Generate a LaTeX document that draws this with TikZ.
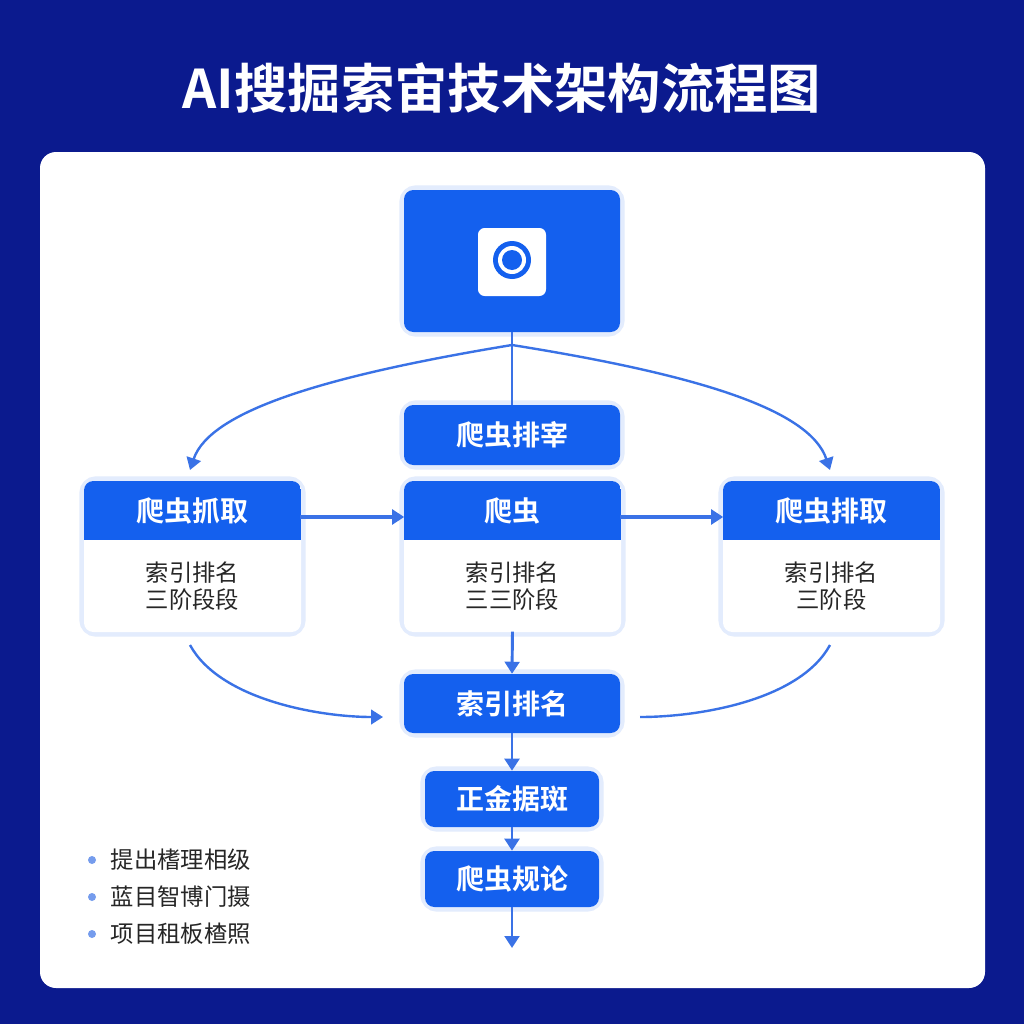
\documentclass[tikz,border=0pt]{standalone}
\usepackage{fontspec}
\setmainfont{Noto Sans CJK SC}[BoldFont={Noto Sans CJK SC Bold}]
\usetikzlibrary{arrows.meta,calc}
\definecolor{bg}{HTML}{0B1A8E}
\definecolor{bl}{HTML}{1460EE}
\definecolor{ln}{HTML}{3A72E6}
\begin{document}
\begin{tikzpicture}[x=0.75pt,y=-0.75pt,
  glow/.style={draw=bl!12,line width=7pt,rounded corners=9pt},
  box/.style={fill=bl,rounded corners=7pt},
  hd/.style={text=white,font=\bfseries\fontsize{21}{24}\selectfont},
  bd/.style={text=black!85,font=\fontsize{17.5}{20}\selectfont,align=center},
  con/.style={draw=ln,line width=2.2pt},
  arr/.style={con,-{Triangle[width=11pt,length=9pt]}},
  bul/.style={font=\fontsize{17.5}{20}\selectfont,text=black!85,anchor=west}]
\useasboundingbox (0,0) rectangle (1024,1024);
\fill[bg] (0,0) rectangle (1024,1024);
\node[text=white,font=\bfseries\fontsize{40}{46}\selectfont] (title) at (502,88) {AI搜掘索宙技术架构流程图};
\fill[white,rounded corners=12pt] (40,152) rectangle (985,988);
% top icon box
\draw[glow] (404,190) rectangle (620,332);
\path[box] (404,190) rectangle (620,332);
\node (top) at (512,261) [minimum width=162pt,minimum height=106pt] {};
\fill[white,rounded corners=5pt] (478,228) rectangle (546,296);
\fill[bl] (512,260) circle (19);
\fill[white] (512,260) circle (14);
\fill[bl] (512,260) circle (10);
% cards
\foreach \n/\x/\h/\a/\b in {L/84/爬虫抓取/索引排名/三阶段段, M/404/爬虫/索引排名/三三阶段, R/723/爬虫排取/索引排名/三阶段}{
  \draw[glow] (\x,481) rectangle ++(217,151);
  \fill[white,rounded corners=7pt] (\x,481) rectangle ++(217,151);
  \begin{scope}
    \clip[rounded corners=7pt] (\x,481) rectangle ++(217,151);
    \fill[bl] (\x,481) rectangle ++(217,59);
  \end{scope}
  \node[hd] (\n h) at ($(\x,511)+(108.5,0)$) {\h};
  \node[bd] (\n b) at ($(\x,586)+(108.5,0)$) {\a\\\b};
  \node (\n) at ($(\x,556)+(108.5,0)$) [minimum width=162pt,minimum height=113pt] {};
}
\foreach \n/\xa/\ya/\xb/\yb/\t in {p1/404/405/620/465/爬虫排宰, p2/404/674/620/733/索引排名, p3/425/771/599/827/正金据斑, p4/425/851/599/907/爬虫规论}{
  \draw[glow] (\xa,\ya) rectangle (\xb,\yb);
  \path[box] (\xa,\ya) rectangle (\xb,\yb);
  \node[hd,minimum width={(\xb-\xa)*0.75pt},minimum height={(\yb-\ya)*0.75pt},inner sep=0pt] (\n) at ({(\xa+\xb)/2},{(\ya+\yb)/2}) {\t};
}
\coordinate (end) at (512,948);
\coordinate (split) at (512,345);
\coordinate (la) at (190,470);
\coordinate (ra) at (830,470);
\coordinate (lc) at (383,717);
\coordinate (rc) at (640,717);
\coordinate (ls) at (190,645);
\coordinate (rs) at (830,645);
\coordinate (lh) at (300,517);
\coordinate (mh) at (620,517);
% connectors
\draw[con] (top.south) -- (p1.north);
\draw[arr,line width=1.8pt] (split) .. controls (330,375) and (210,410) .. (la);
\draw[arr,line width=1.8pt] (split) .. controls (700,375) and (810,410) .. (ra);
\draw[arr,line width=3pt] (lh) -- (M.west |- lh);
\draw[arr,line width=3pt] (mh) -- (R.west |- mh);
\draw[arr] (M.south) -- (p2.north);
\draw[arr,line width=1.8pt] (ls) .. controls (220,700) and (320,717) .. (lc);
\draw[con,line width=1.8pt] (rs) .. controls (800,700) and (700,717) .. (rc);
\draw[arr] (p2.south) -- (p3.north);
\draw[arr] (p3.south) -- (p4.north);
\draw[arr] (p4.south) -- (end);
% bullets
\foreach \t [count=\i] in {提出榰理相级,蓝目智博门摄,项目租板楂照}{
  \fill[ln!70] (92,{860+(\i-1)*37}) circle (4);
  \node[bul] (b\i) at (106,{860+(\i-1)*37}) {\t};
}
\end{tikzpicture}
\end{document}
